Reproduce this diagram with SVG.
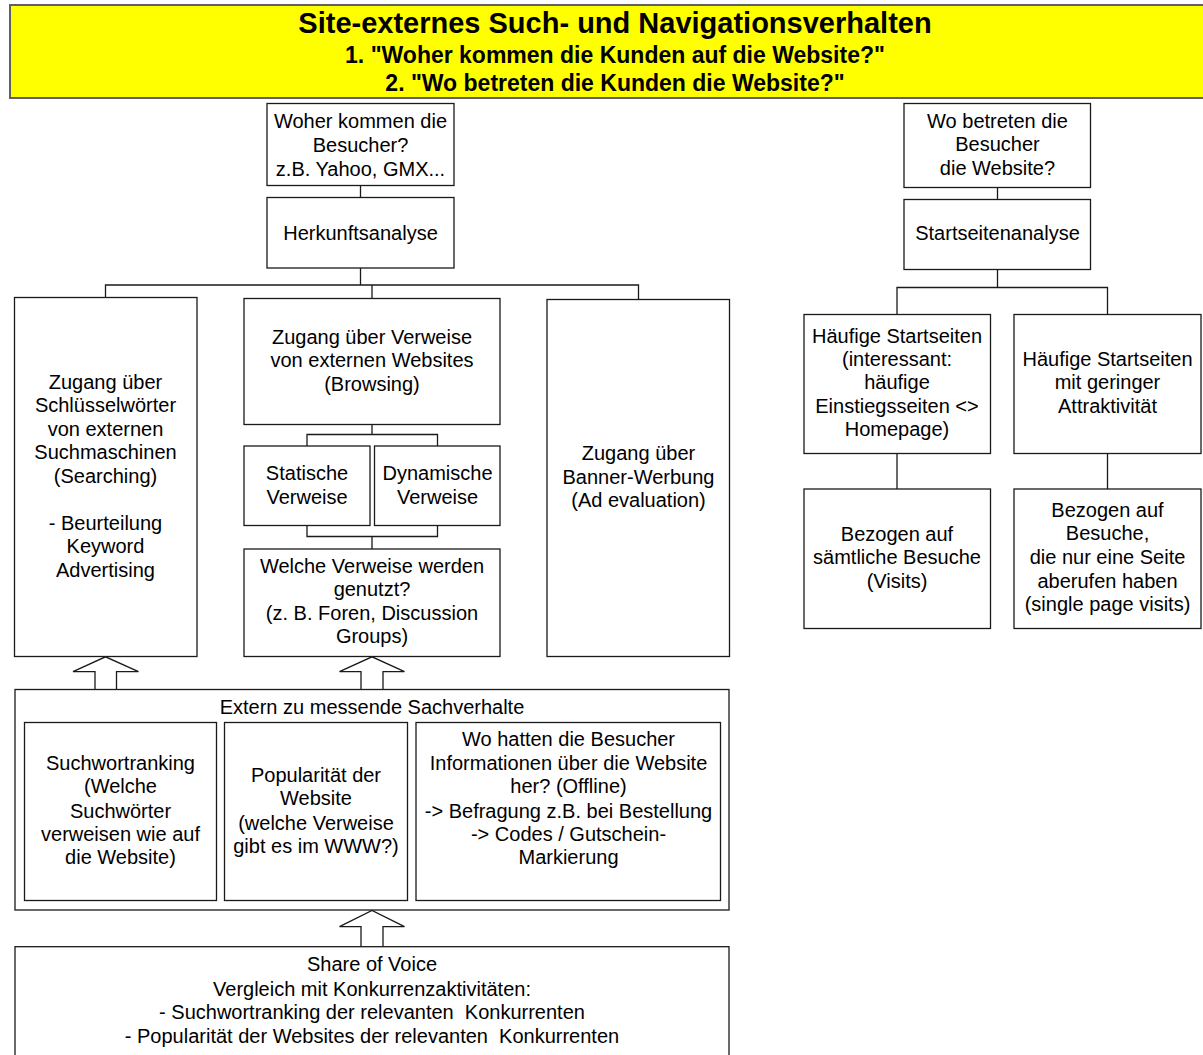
<svg xmlns="http://www.w3.org/2000/svg" width="1203" height="1055" viewBox="0 0 1203 1055">
  <style>
    .box { fill: #ffffff; stroke: #1a1a1a; stroke-width: 1.3; }
    .wire { fill: none; stroke: #1a1a1a; stroke-width: 1.3; }
    .blk { fill: #ffffff; stroke: #1a1a1a; stroke-width: 1.3; stroke-linejoin: miter; }
    text { font-family: "Liberation Sans", Arial, sans-serif; fill: #000000; text-anchor: middle; }
    .t { font-size: 20px; white-space: pre; }
    .h1 { font-size: 29px; font-weight: bold; }
    .h2 { font-size: 23px; font-weight: bold; }
  </style>

  <!-- Header banner -->
  <g id="header">
    <rect x="10" y="5" width="1210" height="93" fill="#ffff00" stroke="#606060" stroke-width="2"/>
    <text class="h1" x="615" y="33">Site-externes Such- und Navigationsverhalten</text>
    <text class="h2" x="615" y="63">1. "Woher kommen die Kunden auf die Website?"</text>
    <text class="h2" x="615" y="91">2. "Wo betreten die Kunden die Website?"</text>
  </g>

  <!-- Connectors -->
  <g id="connectors">
    <!-- left tree -->
    <path class="wire" d="M360.5 185.5 V197.5"/>
    <path class="wire" d="M360.5 268 V285 M105.5 297.5 V285 H638.5 V299.5 M372 285 V298.5"/>
    <path class="wire" d="M372 424.5 V434.5 M307 446 V434.5 H437.5 V446"/>
    <path class="wire" d="M307 525.5 V536.5 H437.5 V525.5 M372 536.5 V549"/>
    <!-- right tree -->
    <path class="wire" d="M997.5 187.5 V199.5"/>
    <path class="wire" d="M997.5 269.5 V287.5 M897 314.5 V287.5 H1107.5 V314.5"/>
    <path class="wire" d="M897 453.5 V489 M1107.5 453.5 V489"/>
    <!-- block arrows -->
    <path class="blk" d="M95 689.5 V671.7 H73 L105.5 656.8 L138.5 671.7 H116.5 V689.5"/>
    <path class="blk" d="M361 689.5 V671.7 H339.5 L372 656.8 L404.5 671.7 H383 V689.5"/>
    <path class="blk" d="M361 946.7 V926.7 H339.5 L372 910.5 L404.5 926.7 H383 V946.7"/>
  </g>

  <g id="n-woher">
    <rect class="box" x="267" y="103.5" width="187" height="82"/>
    <text class="t" x="360.5" y="128">Woher kommen die</text>
    <text class="t" x="360.5" y="151.5">Besucher?</text>
    <text class="t" x="360.5" y="175.5">z.B. Yahoo, GMX...</text>
  </g>

  <g id="n-herkunft">
    <rect class="box" x="267" y="197.5" width="187" height="70.5"/>
    <text class="t" x="360.5" y="239.5">Herkunftsanalyse</text>
  </g>

  <g id="n-searching">
    <rect class="box" x="14.5" y="297.5" width="182.5" height="359"/>
    <text class="t" x="105.5" y="388.5">Zugang über</text>
    <text class="t" x="105.5" y="412">Schlüsselwörter</text>
    <text class="t" x="105.5" y="435.5">von externen</text>
    <text class="t" x="105.5" y="459">Suchmaschinen</text>
    <text class="t" x="105.5" y="482.5">(Searching)</text>
    <text class="t" x="105.5" y="529.5">- Beurteilung</text>
    <text class="t" x="105.5" y="553">Keyword</text>
    <text class="t" x="105.5" y="576.5">Advertising</text>
  </g>

  <g id="n-browsing">
    <rect class="box" x="244" y="298.5" width="256" height="126"/>
    <text class="t" x="372" y="343.5">Zugang über Verweise</text>
    <text class="t" x="372" y="367">von externen Websites</text>
    <text class="t" x="372" y="390.5">(Browsing)</text>
  </g>

  <g id="n-statisch">
    <rect class="box" x="244" y="446" width="126" height="79.5"/>
    <text class="t" x="307" y="480">Statische</text>
    <text class="t" x="307" y="503.5">Verweise</text>
  </g>

  <g id="n-dynamisch">
    <rect class="box" x="374.5" y="446" width="125.5" height="79.5"/>
    <text class="t" x="437.5" y="480">Dynamische</text>
    <text class="t" x="437.5" y="503.5">Verweise</text>
  </g>

  <g id="n-welche">
    <rect class="box" x="244" y="549" width="256" height="107.5"/>
    <text class="t" x="372" y="572.7">Welche Verweise werden</text>
    <text class="t" x="372" y="596.2">genutzt?</text>
    <text class="t" x="372" y="619.7">(z. B. Foren, Discussion</text>
    <text class="t" x="372" y="643.2">Groups)</text>
  </g>

  <g id="n-banner">
    <rect class="box" x="547" y="299.5" width="182.5" height="357"/>
    <text class="t" x="638.5" y="460">Zugang über</text>
    <text class="t" x="638.5" y="483.5">Banner-Werbung</text>
    <text class="t" x="638.5" y="507">(Ad evaluation)</text>
  </g>

  <g id="n-wo">
    <rect class="box" x="904" y="103.5" width="186.5" height="84"/>
    <text class="t" x="997.5" y="127.7">Wo betreten die</text>
    <text class="t" x="997.5" y="151">Besucher</text>
    <text class="t" x="997.5" y="174.5">die Website?</text>
  </g>

  <g id="n-startseiten">
    <rect class="box" x="904" y="199.5" width="186.5" height="70"/>
    <text class="t" x="997.5" y="240">Startseitenanalyse</text>
  </g>

  <g id="n-haeufig1">
    <rect class="box" x="804" y="314.5" width="186.5" height="139"/>
    <text class="t" x="897" y="342.7">Häufige Startseiten</text>
    <text class="t" x="897" y="366">(interessant:</text>
    <text class="t" x="897" y="389.3">häufige</text>
    <text class="t" x="897" y="412.7">Einstiegsseiten &lt;&gt;</text>
    <text class="t" x="897" y="436">Homepage)</text>
  </g>

  <g id="n-haeufig2">
    <rect class="box" x="1014" y="314.5" width="187" height="139"/>
    <text class="t" x="1107.5" y="366">Häufige Startseiten</text>
    <text class="t" x="1107.5" y="389.3">mit geringer</text>
    <text class="t" x="1107.5" y="412.7">Attraktivität</text>
  </g>

  <g id="n-visits">
    <rect class="box" x="804" y="489" width="186.5" height="139.5"/>
    <text class="t" x="897" y="541">Bezogen auf</text>
    <text class="t" x="897" y="564.3">sämtliche Besuche</text>
    <text class="t" x="897" y="587.7">(Visits)</text>
  </g>

  <g id="n-singlepage">
    <rect class="box" x="1014" y="489" width="187" height="139.5"/>
    <text class="t" x="1107.5" y="516.7">Bezogen auf</text>
    <text class="t" x="1107.5" y="540">Besuche,</text>
    <text class="t" x="1107.5" y="564.3">die nur eine Seite</text>
    <text class="t" x="1107.5" y="587.7">aberufen haben</text>
    <text class="t" x="1107.5" y="611">(single page visits)</text>
  </g>

  <g id="n-extern">
    <rect class="box" x="15" y="689.5" width="714" height="220.5"/>
    <text class="t" x="372" y="714">Extern zu messende Sachverhalte</text>
  </g>

  <g id="n-suchwort">
    <rect class="box" x="24.5" y="722.5" width="192" height="178"/>
    <text class="t" x="120.5" y="770">Suchwortranking</text>
    <text class="t" x="120.5" y="793.3">(Welche</text>
    <text class="t" x="120.5" y="817.7">Suchwörter</text>
    <text class="t" x="120.5" y="841">verweisen wie auf</text>
    <text class="t" x="120.5" y="864.3">die Website)</text>
  </g>

  <g id="n-popularitaet">
    <rect class="box" x="224.5" y="722.5" width="183" height="178"/>
    <text class="t" x="316" y="782">Popularität der</text>
    <text class="t" x="316" y="805.3">Website</text>
    <text class="t" x="316" y="830">(welche Verweise</text>
    <text class="t" x="316" y="853.3">gibt es im WWW?)</text>
  </g>

  <g id="n-offline">
    <rect class="box" x="416" y="722.5" width="304.5" height="178"/>
    <text class="t" x="568.5" y="746">Wo hatten die Besucher</text>
    <text class="t" x="568.5" y="770">Informationen über die Website</text>
    <text class="t" x="568.5" y="793.3">her? (Offline)</text>
    <text class="t" x="568.5" y="817.7">-&gt; Befragung z.B. bei Bestellung</text>
    <text class="t" x="568.5" y="841">-&gt; Codes / Gutschein-</text>
    <text class="t" x="568.5" y="864.3">Markierung</text>
  </g>

  <g id="n-shareofvoice">
    <rect class="box" x="15" y="946.7" width="714" height="130"/>
    <text class="t" x="372" y="971">Share of Voice</text>
    <text class="t" x="372" y="995.7">Vergleich mit Konkurrenzaktivitäten:</text>
    <text class="t" x="372" y="1019.3">- Suchwortranking der relevanten  Konkurrenten</text>
    <text class="t" x="372" y="1043.3">- Popularität der Websites der relevanten  Konkurrenten</text>
  </g>
</svg>
